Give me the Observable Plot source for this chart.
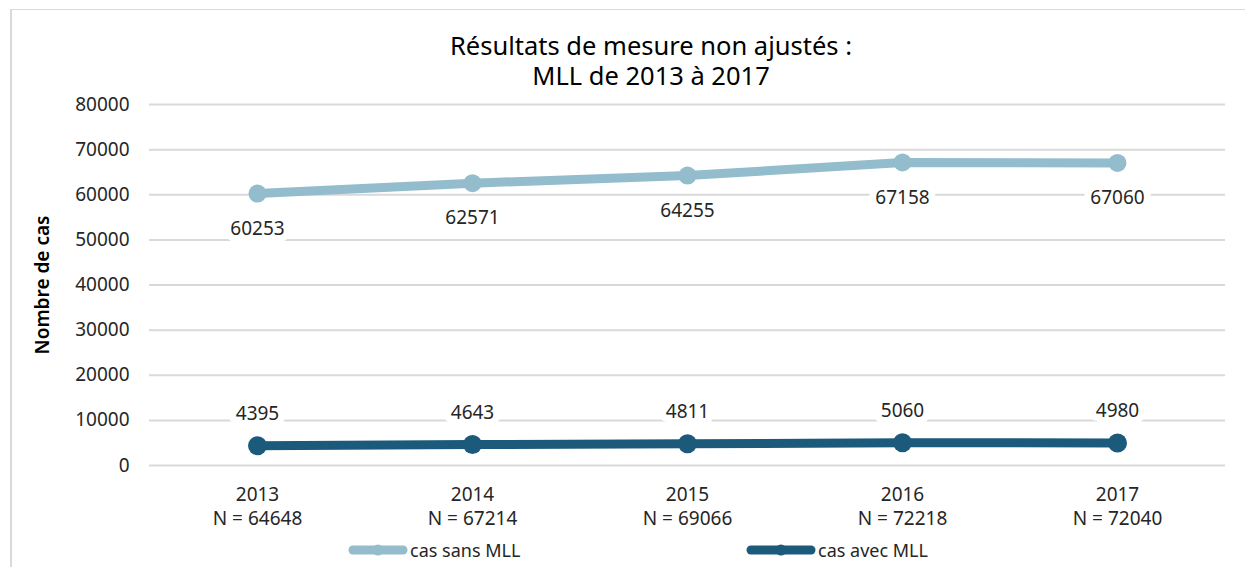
<!DOCTYPE html>
<html>
<head>
<meta charset="utf-8">
<script src="https://cdn.jsdelivr.net/npm/d3@7"></script>
<script src="https://cdn.jsdelivr.net/npm/@observablehq/plot@0.6"></script>
<style>
  html, body { margin: 0; padding: 0; background: #fff; }
  #wrap { position: relative; width: 1245px; height: 567px; overflow: hidden; font-family: "Noto Sans", sans-serif; color: #262626; }
  #frame { position: absolute; left: 10px; top: 9px; width: 1300px; height: 700px; border-left: 2px solid #d9d9d9; border-top: 1px solid #d9d9d9; }
  .title { position: absolute; left: 351px; width: 600px; text-align: center; font-size: 25.5px; line-height: 29px; height: 29px; color: #000; white-space: nowrap; }
  .leg { position: absolute; top: 538px; font-size: 18px; line-height: 24px; display: flex; align-items: center; color: #262626; }
  .leg svg { display: block; margin-right: 2px; }
  #chart { position: absolute; left: 0; top: 0; }
</style>
</head>
<body>
<div id="wrap">
  <div id="frame"></div>
  <div id="chart"></div>
  <div class="title" style="top:31px">Résultats de mesure non ajustés :</div>
  <div class="title" style="top:61px">MLL de 2013 à 2017</div>
  <div id="leg1" class="leg" style="left:348px"></div>
  <div id="leg2" class="leg" style="left:746px"></div>
</div>
<script>
const years = ["2013", "2014", "2015", "2016", "2017"];
const nTotals = [64648, 67214, 69066, 72218, 72040];
const casSansMLL = [60253, 62571, 64255, 67158, 67060];
const casAvecMLL = [4395, 4643, 4811, 5060, 4980];
const seriesNames = ["cas sans MLL", "cas avec MLL"];
const seriesColors = ["#93bccd", "#1c5a7c"];
const yTicks = [0, 10000, 20000, 30000, 40000, 50000, 60000, 70000, 80000];
const yTitle = "Nombre de cas";

const sans = years.map((y, i) => ({year: y, value: casSansMLL[i]}));
const avec = years.map((y, i) => ({year: y, value: casAvecMLL[i]}));
const xLabels = years.map((y, i) => ({year: y, label: `${y}\nN = ${nTotals[i]}`}));

const font = '"Noto Sans", sans-serif';

const chart = Plot.plot({
  width: 1245,
  height: 567,
  marginLeft: 149,
  marginRight: 20,
  marginTop: 104,
  marginBottom: 102,
  style: {fontFamily: font, fontSize: "19px", color: "#262626", background: "transparent"},
  x: {type: "point", domain: years, padding: 0.5, axis: null},
  y: {domain: [0, 80000], axis: null},
  marks: [
    Plot.ruleY(yTicks, {stroke: "#d9d9d9", strokeWidth: 2}),
    Plot.text(yTicks, {y: d => d, text: d => String(d), frameAnchor: "left", textAnchor: "end", dx: -20, fill: "#262626", fontSize: 19}),
    Plot.text([yTitle], {text: d => d, frameAnchor: "left", textAnchor: "middle", rotate: -90, dx: -107, fontWeight: 600, fontSize: 19, fill: "#000"}),
    Plot.text(xLabels, {x: "year", y: () => 0, text: "label", dy: 40, lineHeight: 1.27, fill: "#262626", fontSize: 19}),
    Plot.line(sans, {x: "year", y: "value", stroke: seriesColors[0], strokeWidth: 9}),
    Plot.dot(sans, {x: "year", y: "value", r: 9, fill: seriesColors[0]}),
    Plot.line(avec, {x: "year", y: "value", stroke: seriesColors[1], strokeWidth: 9}),
    Plot.dot(avec, {x: "year", y: "value", r: 9.5, fill: seriesColors[1]}),
    Plot.text(sans, {x: "year", y: "value", text: d => String(d.value), dy: 35, fill: "#262626", stroke: "white", strokeWidth: 14, fontSize: 19}),
    Plot.text(avec, {x: "year", y: "value", text: d => String(d.value), dy: -32, fill: "#262626", stroke: "white", strokeWidth: 14, fontSize: 19})
  ]
});
document.getElementById("chart").appendChild(chart);

function legendSample(color, w) {
  return `<svg width="${w}" height="14"><line x1="5" x2="${w-5}" y1="7" y2="7" stroke="${color}" stroke-width="9" stroke-linecap="round"/><circle cx="${w/2}" cy="7" r="5.5" fill="${color}"/></svg>`;
}
document.getElementById("leg1").innerHTML = legendSample(seriesColors[0], 60) + `<span>${seriesNames[0]}</span>`;
document.getElementById("leg2").innerHTML = legendSample(seriesColors[1], 70) + `<span>${seriesNames[1]}</span>`;
</script>
</body>
</html>
